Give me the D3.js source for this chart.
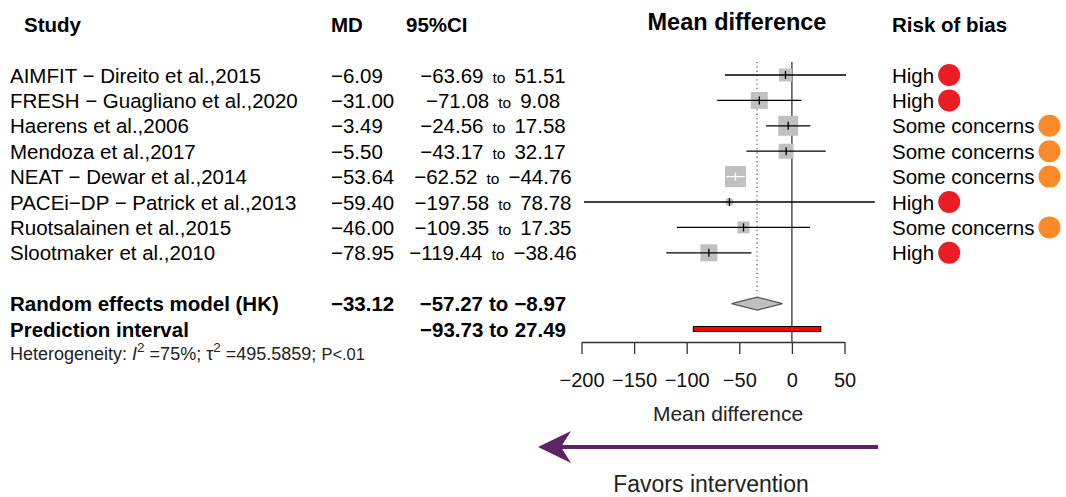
<!DOCTYPE html>
<html>
<head>
<meta charset="utf-8">
<script src="https://cdn.jsdelivr.net/npm/d3@7"></script>
<style>
  html, body { margin: 0; padding: 0; background: #fff; }
  svg { display: block; font-family: "Liberation Sans", Arial, sans-serif; }
</style>
</head>
<body>
<svg id="chart" width="1066" height="497"></svg>
<script>
// ---------------- data ----------------
const studies = [
  "AIMFIT − Direito et al.,2015",
  "FRESH − Guagliano et al.,2020",
  "Haerens et al.,2006",
  "Mendoza et al.,2017",
  "NEAT − Dewar et al.,2014",
  "PACEi−DP − Patrick et al.,2013",
  "Ruotsalainen et al.,2015",
  "Slootmaker et al.,2010"
];
const md      = [-6.09, -31.00, -3.49, -5.50, -53.64, -59.40, -46.00, -78.95];
const ciLower = [-63.69, -71.08, -24.56, -43.17, -62.52, -197.58, -109.35, -119.44];
const ciUpper = [51.51, 9.08, 17.58, 32.17, -44.76, 78.78, 17.35, -38.46];
const weights = [8.4, 14.4, 19.9, 11.2, 22.0, 2.4, 7.2, 14.5];
const riskOfBias = ["High", "High", "Some concerns", "Some concerns", "Some concerns", "High", "Some concerns", "High"];
const summaryLabel = "Random effects model (HK)";
const summary = [-33.12, -57.27, -8.97];      // estimate, lower, upper
const predLabel = "Prediction interval";
const prediction = [-93.73, 27.49];            // lower, upper
const axisTicks = [-200, -150, -100, -50, 0, 50];
const headers = ["Study", "MD", "95%CI", "Mean difference", "Risk of bias"];
const robColors = { "High": "#ec1c24", "Some concerns": "#fd8a28" };

// ---------------- layout ----------------
const svg = d3.select("#chart");
const fmt = d3.format(".2f");
const FS = 20.5;
const x = d3.scaleLinear().domain([-200, 50]).range([581.5, 844.5]);
const row = d3.scaleLinear().domain([0, 1]).range([75, 100.4]);
const side = d3.scaleSqrt().domain([0, 22]).range([0, 21]);
const axisY = 342;
const colStudy = 10, colMD = 331, colCI = 493, colRob = 892;
const base = i => row(i) + 7.5;

// headers
svg.append("text").attr("x", 24).attr("y", 32).attr("font-size", FS).attr("font-weight", "bold").text(headers[0]);
svg.append("text").attr("x", colMD).attr("y", 32).attr("font-size", FS).attr("font-weight", "bold").text(headers[1]);
svg.append("text").attr("x", 406).attr("y", 32).attr("font-size", FS).attr("font-weight", "bold").text(headers[2]);
svg.append("text").attr("x", 737).attr("y", 30).attr("text-anchor", "middle").attr("font-size", 23.5).attr("font-weight", "bold").text(headers[3]);
svg.append("text").attr("x", colRob).attr("y", 32).attr("font-size", FS).attr("font-weight", "bold").text(headers[4]);

// reference lines
svg.append("line").attr("x1", x(0)).attr("x2", x(0)).attr("y1", 62).attr("y2", axisY)
  .attr("stroke", "#333").attr("stroke-width", 1.3);
svg.append("line").attr("x1", x(summary[0])).attr("x2", x(summary[0])).attr("y1", 62).attr("y2", 293)
  .attr("stroke", "#666").attr("stroke-width", 1.3).attr("stroke-dasharray", "1.3,3");

// study rows
studies.forEach((s, i) => {
  const y = row(i);
  svg.append("text").attr("x", colStudy).attr("y", base(i)).attr("font-size", FS).text(s);
  svg.append("text").attr("x", colMD).attr("y", base(i)).attr("font-size", FS).text(fmt(md[i]));
  const t = svg.append("text").attr("x", colCI).attr("y", base(i)).attr("font-size", FS).attr("text-anchor", "middle");
  t.append("tspan").text(fmt(ciLower[i]));
  t.append("tspan").attr("dx", 9).attr("font-size", 15.5).text("to");
  t.append("tspan").attr("dx", 9).text(fmt(ciUpper[i]));

  const sz = side(weights[i]);
  const inside = (x(ciUpper[i]) - x(ciLower[i])) < sz;
  svg.append("rect").attr("x", x(md[i]) - sz / 2).attr("y", y - sz / 2)
    .attr("width", sz).attr("height", sz).attr("fill", "#c0c0c0");
  const lc = inside ? "#fff" : "#000";
  svg.append("line").attr("x1", x(ciLower[i])).attr("x2", x(ciUpper[i])).attr("y1", y).attr("y2", y)
    .attr("stroke", lc).attr("stroke-width", 1.3);
  svg.append("line").attr("x1", x(md[i])).attr("x2", x(md[i])).attr("y1", y - 4).attr("y2", y + 4)
    .attr("stroke", lc).attr("stroke-width", 1.3);

  const rt = svg.append("text").attr("x", colRob).attr("y", base(i)).attr("font-size", FS).text(riskOfBias[i]);
  const w = rt.node().getComputedTextLength();
  svg.append("circle").attr("cx", colRob + w + 15).attr("cy", y).attr("r", 11)
    .attr("fill", robColors[riskOfBias[i]]);
});

// summary row
const sI = 9;
svg.append("text").attr("x", colStudy).attr("y", base(sI)).attr("font-size", FS).attr("font-weight", "bold").text(summaryLabel);
svg.append("text").attr("x", colMD).attr("y", base(sI)).attr("font-size", FS).attr("font-weight", "bold").text(fmt(summary[0]));
{
  const t = svg.append("text").attr("x", colCI).attr("y", base(sI)).attr("font-size", FS).attr("font-weight", "bold").attr("text-anchor", "middle");
  t.append("tspan").text(fmt(summary[1]));
  t.append("tspan").attr("dx", 6).text("to");
  t.append("tspan").attr("dx", 6).text(fmt(summary[2]));
}
{
  const y = row(sI);
  const pts = [[x(summary[1]), y], [x(summary[0]), y - 6.5], [x(summary[2]), y], [x(summary[0]), y + 6.5]];
  svg.append("polygon").attr("points", pts.map(p => p.join(",")).join(" "))
    .attr("fill", "#c0c0c0").attr("stroke", "#555").attr("stroke-width", 1.3);
}

// prediction row
const pI = 10;
svg.append("text").attr("x", colStudy).attr("y", base(pI)).attr("font-size", FS).attr("font-weight", "bold").text(predLabel);
{
  const t = svg.append("text").attr("x", colCI).attr("y", base(pI)).attr("font-size", FS).attr("font-weight", "bold").attr("text-anchor", "middle");
  t.append("tspan").text(fmt(prediction[0]));
  t.append("tspan").attr("dx", 6).text("to");
  t.append("tspan").attr("dx", 6).text(fmt(prediction[1]));
  svg.append("rect").attr("x", x(prediction[0])).attr("y", row(pI) - 2.5)
    .attr("width", x(prediction[1]) - x(prediction[0])).attr("height", 5)
    .attr("fill", "#ff0000").attr("stroke", "#000").attr("stroke-width", 1);
}

// heterogeneity
{
  const t = svg.append("text").attr("x", colStudy).attr("y", row(11) + 5.5).attr("font-size", 18).attr("fill", "#222");
  t.append("tspan").text("Heterogeneity: ");
  t.append("tspan").attr("font-style", "italic").text("I");
  t.append("tspan").attr("font-size", 13.5).attr("dy", -7.5).text("2");
  t.append("tspan").attr("dy", 7.5).text(" =75%; τ");
  t.append("tspan").attr("font-size", 13.5).attr("dy", -7.5).text("2");
  t.append("tspan").attr("dy", 7.5).text(" =495.5859; ");
  t.append("tspan").attr("font-size", 16.5).text("P<.01");
}

// axis
const axisG = svg.append("g").attr("transform", `translate(0,${axisY})`)
  .call(d3.axisBottom(x).tickValues(axisTicks).tickSize(12).tickSizeOuter(0).tickPadding(19)
    .tickFormat(d3.format("d")));
axisG.select(".domain").attr("stroke", "#333").attr("stroke-width", 1.3);
axisG.selectAll(".tick line").attr("stroke", "#333").attr("stroke-width", 1.3);
axisG.selectAll(".tick text").attr("font-size", 20).attr("font-family", "Liberation Sans, Arial, sans-serif").attr("fill", "#111");

svg.append("text").attr("x", 728).attr("y", 421).attr("text-anchor", "middle").attr("font-size", 21).attr("fill", "#222").text("Mean difference");

// arrow
svg.append("line").attr("x1", 878).attr("x2", 560).attr("y1", 447).attr("y2", 447)
  .attr("stroke", "#5b2462").attr("stroke-width", 4);
svg.append("polygon").attr("points", "538,447 571,431 561,447 571,463").attr("fill", "#5b2462");
svg.append("text").attr("x", 711).attr("y", 492).attr("text-anchor", "middle").attr("font-size", 23).attr("fill", "#222").text("Favors intervention");
</script>
</body>
</html>
